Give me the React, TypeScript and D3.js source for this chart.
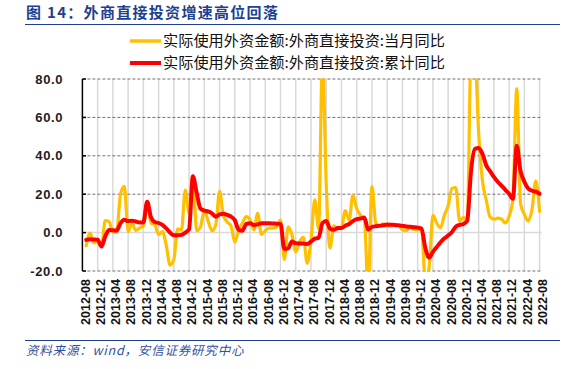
import React from "react";
import * as d3 from "d3";

// Month labels every 4 months, 2012-08 .. 2022-08 (121 monthly slots)
const tickLabels = [
  "2012-08","2012-12","2013-04","2013-08","2013-12","2014-04","2014-08","2014-12",
  "2015-04","2015-08","2015-12","2016-04","2016-08","2016-12","2017-04","2017-08",
  "2017-12","2018-04","2018-08","2018-12","2019-04","2019-08","2019-12","2020-04",
  "2020-08","2020-12","2021-04","2021-08","2021-12","2022-04","2022-08",
];
const yTicks = [80, 60, 40, 20, 0, -20];

// Monthly YoY (当月同比), index 0 = 2012-08 (no value)
const monthly: (number | null)[] = [
  null,
  -6.8, -0.2, -5.4, -4.5, // 2012-09..12
  -7.3, 6.3, 5.7, 0.4, 0.3, 20.1, 24.1, 0.6, 4.9, 1.2, 2.4, 3.3, // 2013
  16.1, 5, 4, -1, 0.5, -6.5, -16.9, -14, 1.9, 1.3, 22.2, 10.3, // 2014
  29.4, 1, 3, 11.5, 6, 1, 4, 21.5, 9, 5.5, 3.5, -5, // 2015
  1.4, 5, 8.3, 6.6, 1.4, 10, -1, 1, 2.3, 2.3, 3, 6.5, // 2016
  -14, 3, -1, -10, -4.7, -2.5, -16, -4, 17, 2, 92, 25, // 2017
  -8, 3.5, 2, 2.5, 11.5, 6.5, 19.5, 12.5, 9, 7, -30, 24, // 2018
  5, 3.5, 4.5, 3.3, 3.5, 4, 3.5, 1.5, 1, 3, 1.5, 1.5, // 2019
  2, -25, -18, 9, 5, 2.5, 9, 14, 23, 23.5, 6, 8, // 2020
  6.2, 92, 92, 52, 27, 17, 8, 7, 7.5, 7, 5, 8.5, // 2021
  17.6, 75, 15, 9.5, 6, 12, 27, 11, // 2022-01..08
];

// Cumulative YoY (累计同比), index 0 = 2012-08 (no value)
const cumulative: (number | null)[] = [
  null,
  -3.8, -3.5, -3.6, -3.7, // 2012-09..12
  -7.3, -2, 1.4, 1.2, 1.1, 4.9, 6.7, 6, 6.2, 5.8, 5.3, 5.3, // 2013
  16.1, 8, 5.5, 5, 4, 2.2, 0, -1.4, -1.4, -1.2, 0, 1.7, // 2014
  29.4, 20.6, 12.5, 11.5, 11, 10, 8.3, 9.5, 9.8, 9.2, 8.3, 6.5, // 2015
  1.5, 1, 4.5, 4.9, 4, 4.3, 4.9, 4.9, 4.9, 4.8, 4.6, 4.5, // 2016
  -8.5, -8.2, -4.7, -5.5, -5.7, -5.7, -6, -4.7, -3.1, -2.7, 4.9, 6, // 2017
  2, 1.5, 2.4, 2.4, 3.6, 4.5, 6, 7, 7.3, 7.8, 1.5, 3, // 2018
  3.3, 3.5, 3.8, 4.2, 4.1, 4, 3.8, 3.5, 3.2, 3, 2.8, 2.6, // 2019
  2.1, -8, -13, -10, -7.5, -5, -3, -1.5, 0.3, 3.1, 4, 4.5, // 2020
  6.2, 32, 43.5, 44, 41, 35, 32, 29, 26.5, 24.5, 22.3, 20.2, // 2021
  17.6, 45.2, 32, 26.5, 23, 21.8, 21.3, 20.2, // 2022-01..08
];

const seriesNames = [
  "实际使用外资金额:外商直接投资:当月同比",
  "实际使用外资金额:外商直接投资:累计同比",
];
const seriesColors = ["#FFC000", "#FF0000"];

export default function App() {
  const W = 578, H = 369;
  const x = d3.scaleLinear().domain([0, 120]).range([82.4, 539.6]);
  const y = d3.scaleLinear().domain([-20, 80]).range([271, 79]);
  const plotRight = 541.7;

  const line = d3
    .line<number | null>()
    .defined((d) => d !== null)
    .x((_, i) => x(i))
    .y((d) => y(d as number))
    .curve(d3.curveMonotoneX);

  const cjk = "'Noto Sans CJK SC', 'Noto Sans', sans-serif";
  const blue = "#1F3F8F";

  return (
    <svg width={W} height={H} style={{ position: "absolute", left: 0, top: 0, background: "#fff" }}>
      <defs>
        <clipPath id="plot">
          <rect x={82} y={y(80) - 0.5} width={plotRight - 82} height={y(-20) - y(80) + 1} />
        </clipPath>
      </defs>

      {/* title */}
      <text x={26} y={18} fontFamily={cjk} fontWeight={700} fontSize={15} fill={blue} letterSpacing={1.3}>
        图 14：外商直接投资增速高位回落
      </text>
      <line x1={25} x2={560} y1={24.5} y2={24.5} stroke={blue} strokeWidth={1.2} />

      {/* legend */}
      {seriesNames.map((n, k) => (
        <g key={n}>
          <line x1={130} x2={161} y1={41 + k * 22} y2={41 + k * 22} stroke={seriesColors[k]} strokeWidth={k === 0 ? 3.5 : 4} />
          <text x={163} y={41 + k * 22} dy="0.35em" fontFamily={cjk} fontSize={15.2} fill="#111">
            {n}
          </text>
        </g>
      ))}

      {/* vertical gridlines */}
      {tickLabels.map((t, k) =>
        k === 0 ? null : (
          <line key={t} x1={x(k * 4)} x2={x(k * 4)} y1={y(80)} y2={y(-20)} stroke="#D9D9D9" strokeWidth={1.5} />
        )
      )}

      {/* horizontal gridlines */}
      {yTicks.map((v) =>
        v === 0 ? null : (
          <line key={v} x1={82.4} x2={plotRight} y1={y(v)} y2={y(v)} stroke="#6E6E6E" strokeWidth={1} strokeDasharray="3,2" />
        )
      )}
      <line x1={82.4} x2={plotRight} y1={y(0)} y2={y(0)} stroke="#D9D9D9" strokeWidth={1.5} />

      {/* series */}
      <g clipPath="url(#plot)">
        <path d={line(monthly) || ""} fill="none" stroke={seriesColors[0]} strokeWidth={3.2} strokeLinejoin="round" strokeLinecap="round" />
        <path d={line(cumulative) || ""} fill="none" stroke={seriesColors[1]} strokeWidth={4} strokeLinejoin="round" strokeLinecap="round" />
      </g>

      {/* y axis */}
      <line x1={82.4} x2={82.4} y1={y(80)} y2={y(-20)} stroke="#000" strokeWidth={1.5} />
      {yTicks.map((v) => (
        <g key={v}>
          <line x1={82.4} x2={86} y1={y(v)} y2={y(v)} stroke="#000" strokeWidth={1.5} />
          <text x={63} y={y(v)} dy="0.35em" textAnchor="end" fontFamily="'Liberation Sans', Arial, sans-serif" fontWeight={700} fontSize={13} fill="#222" letterSpacing={0.6}>
            {v.toFixed(1)}
          </text>
        </g>
      ))}

      {/* x labels */}
      {tickLabels.map((t, k) => (
        <text
          key={t}
          transform={`translate(${x(k * 4) + 3},${279}) rotate(-90)`}
          dy="0.35em"
          textAnchor="end"
          fontFamily="'Liberation Sans', Arial, sans-serif"
          fontWeight={700}
          fontSize={12.5}
          fill="#111"
        >
          {t}
        </text>
      ))}

      {/* footer */}
      <line x1={25} x2={560} y1={340.5} y2={340.5} stroke={blue} strokeWidth={1.2} />
      <text x={26} y={351} dy="0.35em" fontFamily={cjk} fontStyle="italic" fontSize={12.5} fill="#2F4F9F" letterSpacing={0.8}>
        资料来源：wind，安信证券研究中心
      </text>
    </svg>
  );
}
